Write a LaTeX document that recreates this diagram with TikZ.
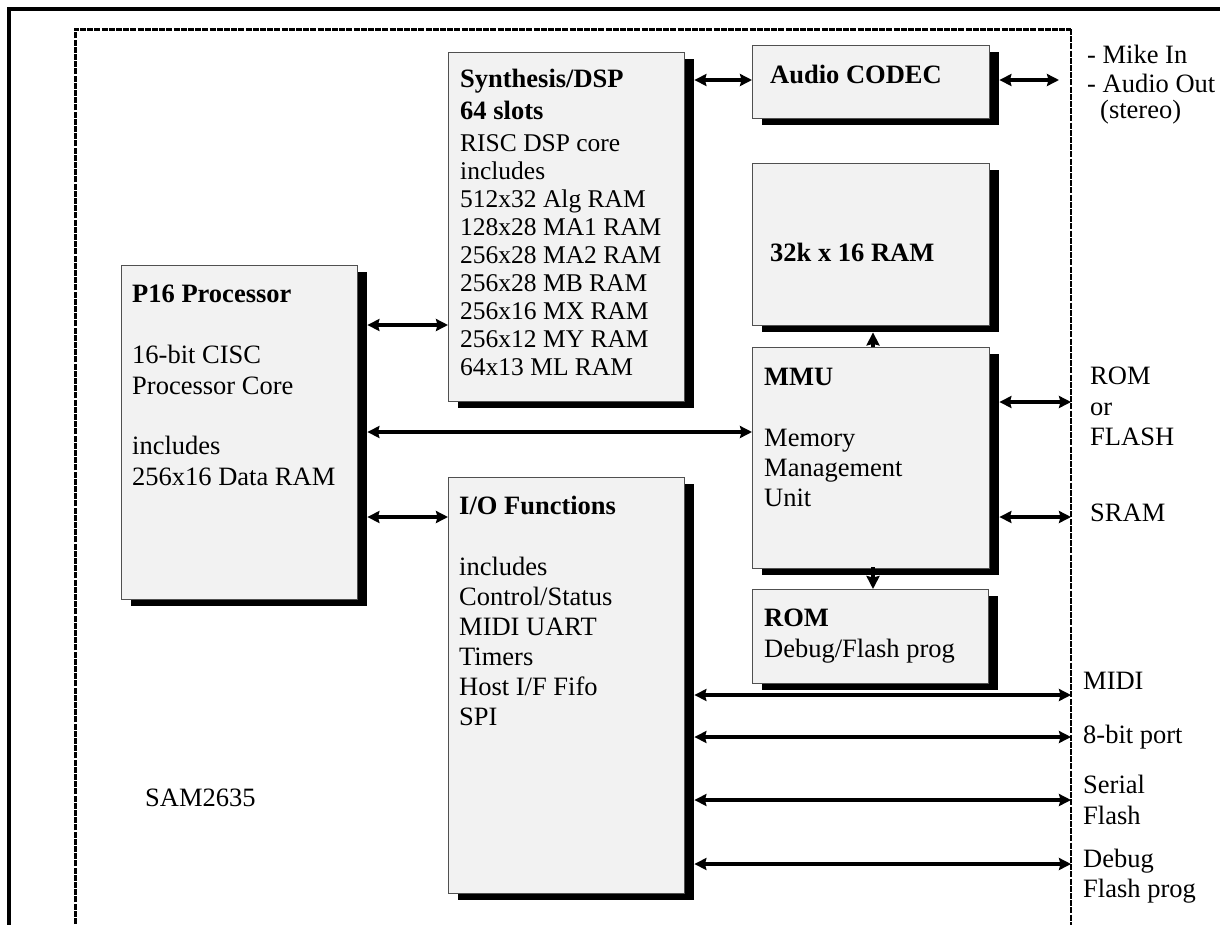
\documentclass[tikz,border=0pt]{standalone}
\usepackage{fontspec}
\setmainfont{Liberation Serif}
\usetikzlibrary{arrows.meta}
\definecolor{boxfill}{RGB}{242,242,242}
\definecolor{boxline}{RGB}{80,80,80}
\newcommand{\bigtxt}{\fontsize{26.5}{30.5}\selectfont}
\newcommand{\smalltxt}{\fontsize{25.5}{28}\selectfont}
\tikzset{
  blk/.style={draw=boxline, line width=1.3pt, fill=boxfill, anchor=north west, inner sep=0pt},
  shd/.style={fill=black, draw=none, anchor=north west, inner sep=0pt},
  txt/.style={anchor=base west, inner sep=0pt, font=\bigtxt},
  btxt/.style={anchor=base west, inner sep=0pt, font=\bigtxt\bfseries},
  stxt/.style={anchor=base west, inner sep=0pt, font=\smalltxt},
  bi/.style={line width=3.2pt, {Stealth[length=12pt,width=12pt,inset=1.5pt]}-{Stealth[length=12pt,width=12pt,inset=1.5pt]}},
  uni/.style={line width=3.2pt, -{Stealth[length=13pt,width=13pt,inset=1.5pt]}},
}
\newcommand{\mkbox}[5]{% name, left, top, right, bottom
  \node[shd, minimum width={#4-#2}, minimum height={#5-#3}] (#1s) at ({#2+10},{#3+7}) {};
  \node[blk, minimum width={#4-#2}, minimum height={#5-#3}] (#1) at (#2,#3) {};
}
\begin{document}
\begin{tikzpicture}[x=1pt,y=-1pt]
\useasboundingbox (0,0) rectangle (1220,924);
% frames
\draw[line width=3.5pt] (9,960) -- (9,9) -- (1260,9);
\draw[line width=3pt, dash pattern=on 6pt off 1.2pt] (75,960) -- (75,29) -- (1071,29);
\draw[line width=2pt, dash pattern=on 6pt off 1.2pt] (1071,29) -- (1071,960);
\coordinate (bR) at (1071,0);
\coordinate (ext) at (1059,0);
% boxes
\mkbox{p16}{121}{265}{357}{599}
\mkbox{dsp}{448}{52}{684}{401}
\mkbox{codec}{752}{45}{989}{118}
\mkbox{ram}{752}{163}{989}{325}
\mkbox{mmu}{752}{347}{989}{568}
\mkbox{rom}{752}{589}{988}{683}
\mkbox{io}{448}{477}{684}{893}
% arrows
\draw[bi] (p16s.east |- 0,325) -- (dsp.west |- 0,325);
\draw[bi] (p16s.east |- 0,432) -- (mmu.west |- 0,432);
\draw[bi] (p16s.east |- 0,517) -- (io.west |- 0,517);
\draw[bi] (dsps.east |- 0,80) -- (codec.west |- 0,80);
\draw[bi] (codecs.east |- 0,80) -- (ext |- 0,80);
\draw[uni] (mmu.north -| 873,0) -- (rams.south -| 873,0);
\draw[uni] (mmus.south -| 873,0) ++(0,-8) -- (rom.north -| 873,0);
\draw[bi] (mmus.east |- 0,402) -- (bR |- 0,402);
\draw[bi] (mmus.east |- 0,517) -- (bR |- 0,517);
\draw[bi] (ios.east |- 0,695) -- (bR |- 0,695);
\draw[bi] (ios.east |- 0,737) -- (bR |- 0,737);
\draw[bi] (ios.east |- 0,800) -- (bR |- 0,800);
\draw[bi] (ios.east |- 0,864) -- (bR |- 0,864);
% P16 text
\node[btxt] (t1) at (132,302) {P16 Processor};
\node[txt] (t2) at (132,363) {16-bit CISC};
\node[txt] (t3) at (132,394) {Processor Core};
\node[txt] (t4) at (132,454) {includes};
\node[txt] (t5) at (132,485) {256x16 Data RAM};
% DSP text
\node[btxt] (d1) at (460,87) {Synthesis/DSP};
\node[btxt] (d2) at (460,119) {64 slots};
\foreach \t [count=\i] in {RISC DSP core, includes, 512x32 Alg RAM, 128x28 MA1 RAM, 256x28 MA2 RAM, 256x28 MB RAM, 256x16 MX RAM, 256x12 MY RAM, 64x13 ML RAM}
  \node[stxt] (dl\i) at (460,{151+(\i-1)*28}) {\t};
% CODEC, RAM
\node[btxt] (c1) at (770,83) {Audio CODEC};
\node[btxt] (r1) at (770,261) {32k x 16 RAM};
% MMU
\node[btxt] (m1) at (764,385) {MMU};
\node[txt] (m2) at (764,446) {Memory};
\node[txt] (m3) at (764,476) {Management};
\node[txt] (m4) at (764,506) {Unit};
% ROM
\node[btxt] (o1) at (764,626) {ROM};
\node[txt] (o2) at (764,657) {Debug/Flash prog};
% I/O
\node[btxt] (i1) at (459,514) {I/O Functions};
\foreach \t [count=\i] in {includes, Control/Status, MIDI UART, Timers, Host I/F Fifo, SPI}
  \node[txt] (il\i) at (459,{575+(\i-1)*30}) {\t};
% chip name
\node[txt] (chip) at (145,806) {SAM2635};
% external labels
\node[txt] (e1) at (1087,63) {- Mike In};
\node[txt] (e2) at (1087,92) {- Audio Out};
\node[txt] (e3) at (1100,118) {(stereo)};
\node[txt] (e4) at (1090,384) {ROM};
\node[txt] (e5) at (1090,415) {or};
\node[txt] (e6) at (1090,445) {FLASH};
\node[txt] (e7) at (1090,521) {SRAM};
\node[txt] (e8) at (1083,689) {MIDI};
\node[txt] (e9) at (1083,743) {8-bit port};
\node[txt] (e10) at (1083,793) {Serial};
\node[txt] (e11) at (1083,824) {Flash};
\node[txt] (e12) at (1083,867) {Debug};
\node[txt] (e13) at (1083,897) {Flash prog};
\end{tikzpicture}
\end{document}
